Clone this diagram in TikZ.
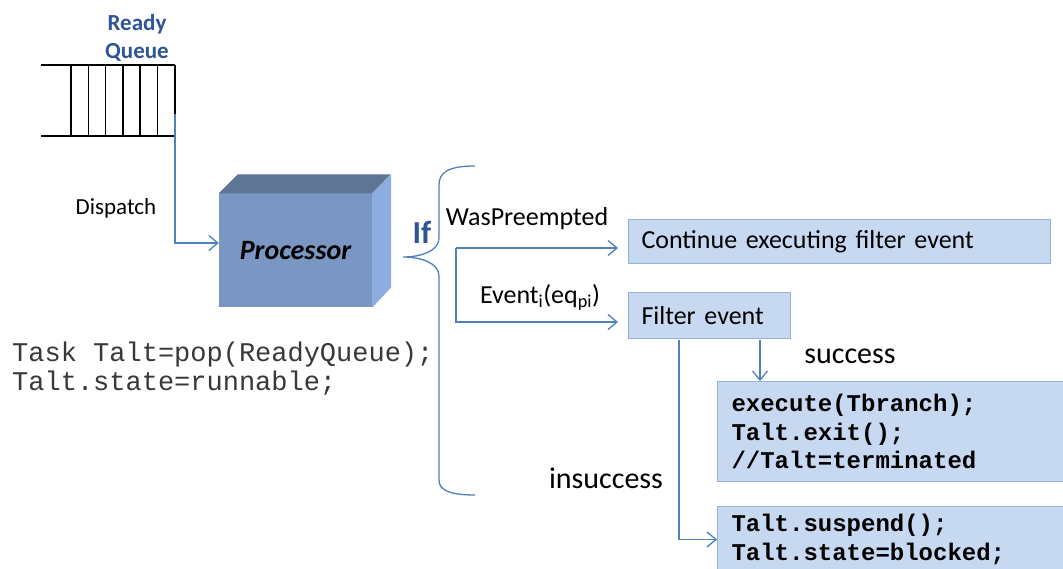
\documentclass[tikz,border=0pt]{standalone}
\usepackage{fontspec}
\setmainfont{Carlito}
\setmonofont{Liberation Mono}
\usepackage{xcolor}
\usetikzlibrary{arrows.meta,positioning}
\definecolor{linkblue}{RGB}{79,129,189}
\definecolor{boxfill}{RGB}{198,217,241}
\definecolor{boxline}{RGB}{149,179,215}
\definecolor{titleblue}{RGB}{47,85,151}
\definecolor{cubefront}{RGB}{122,151,196}
\definecolor{cubetop}{RGB}{95,117,150}
\definecolor{cuberight}{RGB}{140,173,224}
\newcommand{\fsz}[2]{\fontsize{#1pt}{#2pt}\selectfont}

\begin{document}
\begin{tikzpicture}[x=1pt, y=-1pt, >={Straight Barb[length=9pt,width=15pt]},
  every node/.style={align=center, inner sep=0pt},
  flow/.style={->, draw=linkblue, line width=1.3pt},
  txt/.style={font=\fsz{26}{30}},
  bigtxt/.style={font=\fsz{30}{34}},
  box/.style={draw=boxline, fill=boxfill, line width=1pt, align=left, inner xsep=13pt, font=\fsz{26}{30}},
  codebox/.style={box, inner xsep=14pt, font=\ttfamily\bfseries\fsz{24}{28.5}}]
  \clip (0,0) rectangle (1063,569);
  \fill[white] (0,0) rectangle (1063,569);
  % ready queue
  \node[font=\bfseries\fsz{23}{28}, text=titleblue] (title) at (137,38) {Ready\\Queue};
  \draw[line width=1.5pt] (41,65) -- (175,65) (41,136) -- (175,136) (175,65) -- (175,114);
  \foreach \i in {0,...,5}
    \draw[line width=1.5pt] (71+17.3*\i,65) -- (71+17.3*\i,136);
  \coordinate (qout) at (175,114);
  % processor
  \node[fill=cubefront, minimum width=153pt, minimum height=114pt,
        font=\bfseries\itshape\fsz{28}{32}] (proc) at (295.5,250.5) {Processor};
  \fill[cubetop] (proc.north west) -- ++(19,-19) -- ++(153,0) -- (proc.north east) -- cycle;
  \fill[cuberight] (proc.north east) -- ++(19,-19) -- ++(0,113) -- (proc.south east) -- cycle;
  \draw[flow] (qout) |- ([yshift=7.5pt]proc.west);
  \node[font=\fsz{23}{26}] (disp) at (116,208) {Dispatch};
  \node[font=\ttfamily\fsz{27}{29}, text=black!78, align=left, anchor=west] (pop) at (12,369)
    {Task Talt=pop(ReadyQueue);\\Talt.state=runnable;};
  % if brace
  \node[font=\bfseries\fsz{32}{36}, text=titleblue] (if) at (422,232) {If};
  \draw[linkblue, line width=1.3pt] (475,166) .. controls (449,166) and (439,172) .. (439,185)
    -- (439,238) .. controls (439,251) and (421,257) .. (403,257)
    .. controls (421,257) and (439,263) .. (439,276)
    -- (439,480) .. controls (439,490) and (449,495) .. (475,495);
  % branches
  \node[box, text width=396pt, minimum height=44pt, anchor=north west] (cont) at (628,219)
    {Continue executing filter event};
  \node[box, text width=136pt, minimum height=46pt, below right=28pt and 0pt of cont.south west] (filt)
    {Filter event};
  \node[txt] (wasp) at (527,219) {WasPreempted};
  \node[txt] (evt) at (540,297) {Event\textsubscript{i}(eq\textsubscript{pi})};
  \coordinate (wp) at (456,248);
  \coordinate (ev) at (456,322);
  \draw[flow, shorten >=10pt] (wp) -- (wp -| cont.west);
  \draw[flow, shorten >=10pt] (wp) -- (ev) -- (ev -| filt.west);
  % results
  \node[codebox, text width=335pt, minimum height=100pt, anchor=north west] (succ) at (717,381)
    {execute(Tbranch);\\Talt.exit();\\//Talt=terminated};
  \node[codebox, text width=335pt, minimum height=66pt, anchor=north west] (fail) at (717,506)
    {Talt.suspend();\\Talt.state=blocked;};
  \node[bigtxt] (oklab) at (850,356) {success};
  \node[bigtxt] (nolab) at (606,478) {insuccess};
  \coordinate (fs) at (760,340);
  \coordinate (fi) at (679,340);
  \draw[flow] (fs) -- (fs |- succ.north);
  \draw[flow] (fi) |- (fail.west);
\end{tikzpicture}
\end{document}
